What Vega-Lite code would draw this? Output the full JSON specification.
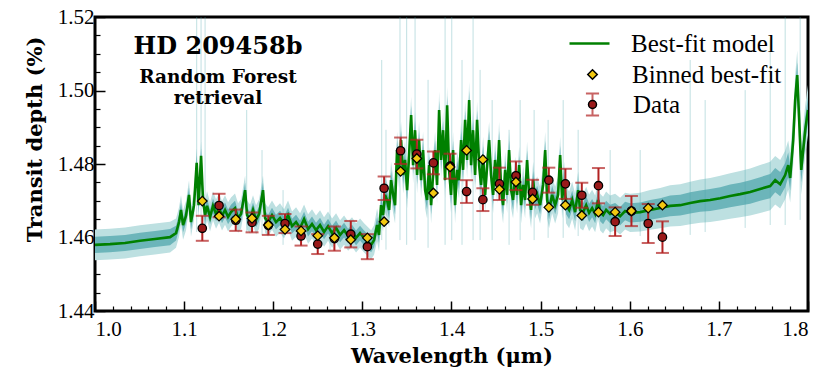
{
  "$schema": "https://vega.github.io/schema/vega-lite/v6.json",
  "width": 713,
  "height": 294,
  "autosize": "none",
  "padding": {"left": 95, "top": 17, "right": 22, "bottom": 72},
  "background": "white",
  "config": {
    "view": {"stroke": "black", "strokeWidth": 3},
    "font": "Liberation Serif",
    "axis": {"domain": false, "grid": false, "tickColor": "black", "labelColor": "black", "titleColor": "black"},
    "legend": {"padding": 0, "labelFont": "Liberation Serif", "labelFontSize": 25, "labelColor": "black", "title": null}
  },
  "title": {
    "text": "HD 209458b",
    "subtitle": ["Random Forest", "retrieval"],
    "anchor": "start",
    "frame": "group",
    "orient": "top",
    "align": "center",
    "dx": 123,
    "dy": 105,
    "font": "DejaVu Serif",
    "fontWeight": "bold",
    "fontSize": 24,
    "color": "black",
    "subtitleFont": "DejaVu Serif",
    "subtitleFontWeight": "bold",
    "subtitleFontSize": 18.5,
    "subtitleLineHeight": 21,
    "subtitleColor": "black",
    "subtitlePadding": 9
  },
  "datasets": {
    "model": [
      {"w":1.0000,"m":1.4580,"s1":0.0022,"s2":0.0042},{"w":1.0168,"m":1.4582,"s1":0.0022,"s2":0.0042},{"w":1.0337,"m":1.4585,"s1":0.0022,"s2":0.0042},{"w":1.0505,"m":1.4591,"s1":0.0022,"s2":0.0042},{"w":1.0673,"m":1.4596,"s1":0.0022,"s2":0.0042},{"w":1.0842,"m":1.4601,"s1":0.0022,"s2":0.0042},{"w":1.0909,"m":1.4612,"s1":0.0020,"s2":0.0040},{"w":1.0943,"m":1.4642,"s1":0.0020,"s2":0.0040},{"w":1.0965,"m":1.4675,"s1":0.0020,"s2":0.0040},{"w":1.0988,"m":1.4634,"s1":0.0020,"s2":0.0040},{"w":1.1021,"m":1.4659,"s1":0.0020,"s2":0.0040},{"w":1.1055,"m":1.4716,"s1":0.0020,"s2":0.0040},{"w":1.1077,"m":1.4642,"s1":0.0020,"s2":0.0040},{"w":1.1111,"m":1.4688,"s1":0.0020,"s2":0.0040},{"w":1.1141,"m":1.4803,"s1":0.0020,"s2":0.0040},{"w":1.1162,"m":1.4688,"s1":0.0020,"s2":0.0040},{"w":1.1190,"m":1.4822,"s1":0.0020,"s2":0.0040},{"w":1.1212,"m":1.4702,"s1":0.0020,"s2":0.0040},{"w":1.1235,"m":1.4661,"s1":0.0020,"s2":0.0040},{"w":1.1257,"m":1.4686,"s1":0.0020,"s2":0.0040},{"w":1.1291,"m":1.4656,"s1":0.0020,"s2":0.0040},{"w":1.1324,"m":1.4686,"s1":0.0020,"s2":0.0040},{"w":1.1358,"m":1.4664,"s1":0.0020,"s2":0.0040},{"w":1.1392,"m":1.4680,"s1":0.0020,"s2":0.0040},{"w":1.1425,"m":1.4659,"s1":0.0020,"s2":0.0040},{"w":1.1459,"m":1.4675,"s1":0.0020,"s2":0.0040},{"w":1.1493,"m":1.4656,"s1":0.0020,"s2":0.0040},{"w":1.1526,"m":1.4669,"s1":0.0020,"s2":0.0040},{"w":1.1571,"m":1.4680,"s1":0.0020,"s2":0.0040},{"w":1.1605,"m":1.4653,"s1":0.0020,"s2":0.0040},{"w":1.1639,"m":1.4664,"s1":0.0020,"s2":0.0040},{"w":1.1684,"m":1.4729,"s1":0.0020,"s2":0.0040},{"w":1.1706,"m":1.4661,"s1":0.0020,"s2":0.0040},{"w":1.1740,"m":1.4650,"s1":0.0020,"s2":0.0040},{"w":1.1773,"m":1.4675,"s1":0.0020,"s2":0.0040},{"w":1.1807,"m":1.4648,"s1":0.0020,"s2":0.0040},{"w":1.1841,"m":1.4664,"s1":0.0020,"s2":0.0040},{"w":1.1885,"m":1.4729,"s1":0.0020,"s2":0.0040},{"w":1.1908,"m":1.4653,"s1":0.0020,"s2":0.0040},{"w":1.1942,"m":1.4642,"s1":0.0020,"s2":0.0040},{"w":1.1986,"m":1.4661,"s1":0.0020,"s2":0.0040},{"w":1.2031,"m":1.4642,"s1":0.0020,"s2":0.0040},{"w":1.2076,"m":1.4653,"s1":0.0020,"s2":0.0040},{"w":1.2121,"m":1.4637,"s1":0.0020,"s2":0.0040},{"w":1.2166,"m":1.4661,"s1":0.0020,"s2":0.0040},{"w":1.2211,"m":1.4631,"s1":0.0020,"s2":0.0040},{"w":1.2256,"m":1.4642,"s1":0.0020,"s2":0.0040},{"w":1.2301,"m":1.4626,"s1":0.0020,"s2":0.0040},{"w":1.2346,"m":1.4650,"s1":0.0020,"s2":0.0040},{"w":1.2391,"m":1.4623,"s1":0.0020,"s2":0.0040},{"w":1.2435,"m":1.4637,"s1":0.0020,"s2":0.0040},{"w":1.2480,"m":1.4620,"s1":0.0020,"s2":0.0040},{"w":1.2525,"m":1.4634,"s1":0.0020,"s2":0.0040},{"w":1.2570,"m":1.4615,"s1":0.0020,"s2":0.0040},{"w":1.2615,"m":1.4631,"s1":0.0020,"s2":0.0040},{"w":1.2660,"m":1.4612,"s1":0.0020,"s2":0.0040},{"w":1.2705,"m":1.4626,"s1":0.0020,"s2":0.0040},{"w":1.2750,"m":1.4607,"s1":0.0020,"s2":0.0040},{"w":1.2795,"m":1.4620,"s1":0.0020,"s2":0.0040},{"w":1.2840,"m":1.4604,"s1":0.0020,"s2":0.0040},{"w":1.2884,"m":1.4615,"s1":0.0020,"s2":0.0040},{"w":1.2929,"m":1.4599,"s1":0.0020,"s2":0.0040},{"w":1.2974,"m":1.4612,"s1":0.0020,"s2":0.0040},{"w":1.3019,"m":1.4599,"s1":0.0020,"s2":0.0040},{"w":1.3064,"m":1.4588,"s1":0.0020,"s2":0.0040},{"w":1.3098,"m":1.4580,"s1":0.0020,"s2":0.0040},{"w":1.3131,"m":1.4593,"s1":0.0020,"s2":0.0040},{"w":1.3165,"m":1.4634,"s1":0.0022,"s2":0.0045},{"w":1.3187,"m":1.4607,"s1":0.0022,"s2":0.0045},{"w":1.3210,"m":1.4688,"s1":0.0022,"s2":0.0045},{"w":1.3232,"m":1.4661,"s1":0.0022,"s2":0.0045},{"w":1.3255,"m":1.4716,"s1":0.0024,"s2":0.0048},{"w":1.3277,"m":1.4702,"s1":0.0024,"s2":0.0048},{"w":1.3300,"m":1.4675,"s1":0.0024,"s2":0.0048},{"w":1.3322,"m":1.4756,"s1":0.0025,"s2":0.0050},{"w":1.3345,"m":1.4716,"s1":0.0025,"s2":0.0050},{"w":1.3367,"m":1.4688,"s1":0.0025,"s2":0.0050},{"w":1.3389,"m":1.4838,"s1":0.0025,"s2":0.0050},{"w":1.3412,"m":1.4784,"s1":0.0025,"s2":0.0050},{"w":1.3434,"m":1.4865,"s1":0.0025,"s2":0.0050},{"w":1.3457,"m":1.4770,"s1":0.0025,"s2":0.0050},{"w":1.3479,"m":1.4811,"s1":0.0025,"s2":0.0050},{"w":1.3502,"m":1.4729,"s1":0.0025,"s2":0.0050},{"w":1.3524,"m":1.4824,"s1":0.0025,"s2":0.0050},{"w":1.3547,"m":1.4933,"s1":0.0025,"s2":0.0050},{"w":1.3569,"m":1.4797,"s1":0.0025,"s2":0.0050},{"w":1.3591,"m":1.4892,"s1":0.0025,"s2":0.0050},{"w":1.3614,"m":1.4770,"s1":0.0025,"s2":0.0050},{"w":1.3636,"m":1.4865,"s1":0.0025,"s2":0.0050},{"w":1.3659,"m":1.4756,"s1":0.0025,"s2":0.0050},{"w":1.3681,"m":1.4838,"s1":0.0025,"s2":0.0050},{"w":1.3704,"m":1.4729,"s1":0.0025,"s2":0.0050},{"w":1.3726,"m":1.4702,"s1":0.0025,"s2":0.0050},{"w":1.3749,"m":1.4797,"s1":0.0025,"s2":0.0050},{"w":1.3771,"m":1.4688,"s1":0.0025,"s2":0.0050},{"w":1.3793,"m":1.4770,"s1":0.0025,"s2":0.0050},{"w":1.3816,"m":1.4838,"s1":0.0025,"s2":0.0050},{"w":1.3838,"m":1.4743,"s1":0.0025,"s2":0.0050},{"w":1.3861,"m":1.4947,"s1":0.0025,"s2":0.0050},{"w":1.3883,"m":1.4811,"s1":0.0025,"s2":0.0050},{"w":1.3906,"m":1.4892,"s1":0.0025,"s2":0.0050},{"w":1.3928,"m":1.4756,"s1":0.0025,"s2":0.0050},{"w":1.3951,"m":1.4960,"s1":0.0025,"s2":0.0050},{"w":1.3973,"m":1.4784,"s1":0.0025,"s2":0.0050},{"w":1.3995,"m":1.4716,"s1":0.0025,"s2":0.0050},{"w":1.4018,"m":1.4838,"s1":0.0025,"s2":0.0050},{"w":1.4040,"m":1.4688,"s1":0.0025,"s2":0.0050},{"w":1.4063,"m":1.4784,"s1":0.0025,"s2":0.0050},{"w":1.4085,"m":1.4756,"s1":0.0025,"s2":0.0050},{"w":1.4108,"m":1.4865,"s1":0.0025,"s2":0.0050},{"w":1.4130,"m":1.4784,"s1":0.0025,"s2":0.0050},{"w":1.4153,"m":1.4920,"s1":0.0025,"s2":0.0050},{"w":1.4175,"m":1.4811,"s1":0.0025,"s2":0.0050},{"w":1.4198,"m":1.4974,"s1":0.0025,"s2":0.0050},{"w":1.4220,"m":1.4797,"s1":0.0025,"s2":0.0050},{"w":1.4242,"m":1.4892,"s1":0.0025,"s2":0.0050},{"w":1.4265,"m":1.4770,"s1":0.0025,"s2":0.0050},{"w":1.4287,"m":1.4920,"s1":0.0025,"s2":0.0050},{"w":1.4310,"m":1.4797,"s1":0.0025,"s2":0.0050},{"w":1.4332,"m":1.4743,"s1":0.0025,"s2":0.0050},{"w":1.4355,"m":1.4824,"s1":0.0025,"s2":0.0050},{"w":1.4377,"m":1.4716,"s1":0.0025,"s2":0.0050},{"w":1.4400,"m":1.4797,"s1":0.0025,"s2":0.0050},{"w":1.4422,"m":1.4865,"s1":0.0025,"s2":0.0050},{"w":1.4444,"m":1.4770,"s1":0.0025,"s2":0.0050},{"w":1.4467,"m":1.4716,"s1":0.0025,"s2":0.0050},{"w":1.4489,"m":1.4811,"s1":0.0025,"s2":0.0050},{"w":1.4512,"m":1.4743,"s1":0.0025,"s2":0.0050},{"w":1.4534,"m":1.4865,"s1":0.0025,"s2":0.0050},{"w":1.4557,"m":1.4729,"s1":0.0025,"s2":0.0050},{"w":1.4579,"m":1.4688,"s1":0.0025,"s2":0.0050},{"w":1.4602,"m":1.4784,"s1":0.0025,"s2":0.0050},{"w":1.4624,"m":1.4716,"s1":0.0025,"s2":0.0050},{"w":1.4646,"m":1.4838,"s1":0.0025,"s2":0.0050},{"w":1.4669,"m":1.4729,"s1":0.0025,"s2":0.0050},{"w":1.4691,"m":1.4702,"s1":0.0025,"s2":0.0050},{"w":1.4714,"m":1.4770,"s1":0.0025,"s2":0.0050},{"w":1.4736,"m":1.4716,"s1":0.0025,"s2":0.0050},{"w":1.4759,"m":1.4797,"s1":0.0025,"s2":0.0050},{"w":1.4781,"m":1.4688,"s1":0.0025,"s2":0.0050},{"w":1.4804,"m":1.4743,"s1":0.0025,"s2":0.0050},{"w":1.4826,"m":1.4702,"s1":0.0025,"s2":0.0050},{"w":1.4848,"m":1.4811,"s1":0.0025,"s2":0.0050},{"w":1.4871,"m":1.4716,"s1":0.0025,"s2":0.0050},{"w":1.4893,"m":1.4675,"s1":0.0025,"s2":0.0050},{"w":1.4916,"m":1.4756,"s1":0.0025,"s2":0.0050},{"w":1.4938,"m":1.4702,"s1":0.0025,"s2":0.0050},{"w":1.4961,"m":1.4716,"s1":0.0025,"s2":0.0050},{"w":1.4994,"m":1.4688,"s1":0.0025,"s2":0.0050},{"w":1.5028,"m":1.4743,"s1":0.0025,"s2":0.0050},{"w":1.5051,"m":1.4838,"s1":0.0025,"s2":0.0050},{"w":1.5073,"m":1.4702,"s1":0.0025,"s2":0.0050},{"w":1.5095,"m":1.4675,"s1":0.0025,"s2":0.0050},{"w":1.5129,"m":1.4716,"s1":0.0025,"s2":0.0050},{"w":1.5163,"m":1.4688,"s1":0.0025,"s2":0.0050},{"w":1.5196,"m":1.4716,"s1":0.0025,"s2":0.0050},{"w":1.5219,"m":1.4824,"s1":0.0025,"s2":0.0050},{"w":1.5241,"m":1.4702,"s1":0.0025,"s2":0.0050},{"w":1.5264,"m":1.4756,"s1":0.0025,"s2":0.0050},{"w":1.5286,"m":1.4688,"s1":0.0025,"s2":0.0050},{"w":1.5320,"m":1.4675,"s1":0.0025,"s2":0.0050},{"w":1.5354,"m":1.4702,"s1":0.0025,"s2":0.0050},{"w":1.5387,"m":1.4669,"s1":0.0025,"s2":0.0050},{"w":1.5421,"m":1.4729,"s1":0.0025,"s2":0.0050},{"w":1.5443,"m":1.4675,"s1":0.0025,"s2":0.0050},{"w":1.5477,"m":1.4669,"s1":0.0025,"s2":0.0050},{"w":1.5511,"m":1.4688,"s1":0.0025,"s2":0.0050},{"w":1.5544,"m":1.4667,"s1":0.0025,"s2":0.0050},{"w":1.5578,"m":1.4680,"s1":0.0025,"s2":0.0050},{"w":1.5612,"m":1.4664,"s1":0.0025,"s2":0.0050},{"w":1.5645,"m":1.4702,"s1":0.0025,"s2":0.0050},{"w":1.5668,"m":1.4669,"s1":0.0025,"s2":0.0050},{"w":1.5701,"m":1.4661,"s1":0.0025,"s2":0.0050},{"w":1.5735,"m":1.4675,"s1":0.0025,"s2":0.0050},{"w":1.5780,"m":1.4664,"s1":0.0025,"s2":0.0050},{"w":1.5836,"m":1.4669,"s1":0.0025,"s2":0.0050},{"w":1.5892,"m":1.4658,"s1":0.0025,"s2":0.0050},{"w":1.5948,"m":1.4672,"s1":0.0025,"s2":0.0050},{"w":1.6004,"m":1.4667,"s1":0.0026,"s2":0.0052},{"w":1.6117,"m":1.4669,"s1":0.0026,"s2":0.0053},{"w":1.6229,"m":1.4675,"s1":0.0027,"s2":0.0054},{"w":1.6341,"m":1.4680,"s1":0.0027,"s2":0.0055},{"w":1.6453,"m":1.4686,"s1":0.0028,"s2":0.0056},{"w":1.6566,"m":1.4688,"s1":0.0028,"s2":0.0057},{"w":1.6678,"m":1.4694,"s1":0.0029,"s2":0.0058},{"w":1.6790,"m":1.4699,"s1":0.0029,"s2":0.0059},{"w":1.6902,"m":1.4702,"s1":0.0030,"s2":0.0060},{"w":1.7015,"m":1.4707,"s1":0.0030,"s2":0.0061},{"w":1.7127,"m":1.4713,"s1":0.0031,"s2":0.0062},{"w":1.7239,"m":1.4718,"s1":0.0031,"s2":0.0063},{"w":1.7351,"m":1.4724,"s1":0.0032,"s2":0.0064},{"w":1.7463,"m":1.4732,"s1":0.0032,"s2":0.0065},{"w":1.7576,"m":1.4740,"s1":0.0033,"s2":0.0066},{"w":1.7632,"m":1.4756,"s1":0.0033,"s2":0.0066},{"w":1.7688,"m":1.4745,"s1":0.0033,"s2":0.0066},{"w":1.7744,"m":1.4770,"s1":0.0033,"s2":0.0066},{"w":1.7778,"m":1.4797,"s1":0.0034,"s2":0.0067},{"w":1.7800,"m":1.4762,"s1":0.0034,"s2":0.0067},{"w":1.7834,"m":1.4865,"s1":0.0034,"s2":0.0067},{"w":1.7856,"m":1.4974,"s1":0.0034,"s2":0.0067},{"w":1.7879,"m":1.5042,"s1":0.0034,"s2":0.0067},{"w":1.7901,"m":1.4920,"s1":0.0034,"s2":0.0067},{"w":1.7924,"m":1.4784,"s1":0.0034,"s2":0.0067},{"w":1.7946,"m":1.4838,"s1":0.0035,"s2":0.0068},{"w":1.7969,"m":1.4892,"s1":0.0035,"s2":0.0068},{"w":1.8000,"m":1.4947,"s1":0.0035,"s2":0.0068}
    ],
    "spikes": [
      {"w":1.1141,"lo":1.4615,"hi":1.5200},{"w":1.1190,"lo":1.4615,"hi":1.5200},{"w":1.1235,"lo":1.4620,"hi":1.5200},{"w":1.1702,"lo":1.4615,"hi":1.4947},{"w":1.1874,"lo":1.4607,"hi":1.4838},{"w":1.2110,"lo":1.4580,"hi":1.4729},{"w":1.2637,"lo":1.4567,"hi":1.4811},{"w":1.3217,"lo":1.4593,"hi":1.5083},{"w":1.3265,"lo":1.4567,"hi":1.4893},{"w":1.3422,"lo":1.4593,"hi":1.5200},{"w":1.3497,"lo":1.4580,"hi":1.5200},{"w":1.3591,"lo":1.4593,"hi":1.5200},{"w":1.3737,"lo":1.4572,"hi":1.5029},{"w":1.3928,"lo":1.4580,"hi":1.5200},{"w":1.4003,"lo":1.4593,"hi":1.5200},{"w":1.4118,"lo":1.4580,"hi":1.5083},{"w":1.4242,"lo":1.4593,"hi":1.5200},{"w":1.4321,"lo":1.4593,"hi":1.5056},{"w":1.4456,"lo":1.4593,"hi":1.4974},{"w":1.4646,"lo":1.4580,"hi":1.4893},{"w":1.4770,"lo":1.4593,"hi":1.4974},{"w":1.4927,"lo":1.4593,"hi":1.4947},{"w":1.5084,"lo":1.4599,"hi":1.4920},{"w":1.5253,"lo":1.4599,"hi":1.4974},{"w":1.5421,"lo":1.4604,"hi":1.4893},{"w":1.5780,"lo":1.4604,"hi":1.4838},{"w":1.6117,"lo":1.4604,"hi":1.4838},{"w":1.6678,"lo":1.4607,"hi":1.5083},{"w":1.6846,"lo":1.4615,"hi":1.4974},{"w":1.7295,"lo":1.4626,"hi":1.5001},{"w":1.7576,"lo":1.4634,"hi":1.5138},{"w":1.7744,"lo":1.4634,"hi":1.5200},{"w":1.7912,"lo":1.4648,"hi":1.5200}
    ],
    "obs": [
      {"w":1.1204,"d":1.4625,"e":0.0034,"b":1.4699},
      {"w":1.1392,"d":1.4687,"e":0.0032,"b":1.4658},
      {"w":1.1579,"d":1.4647,"e":0.0029,"b":1.4650},
      {"w":1.1762,"d":1.4641,"e":0.0027,"b":1.4652},
      {"w":1.1945,"d":1.4633,"e":0.0026,"b":1.4634},
      {"w":1.2132,"d":1.4638,"e":0.0026,"b":1.4622},
      {"w":1.2312,"d":1.4604,"e":0.0026,"b":1.4618},
      {"w":1.2499,"d":1.4582,"e":0.0027,"b":1.4605},
      {"w":1.2686,"d":1.4597,"e":0.0033,"b":1.4599},
      {"w":1.2870,"d":1.4609,"e":0.0036,"b":1.4594},
      {"w":1.3056,"d":1.4575,"e":0.0034,"b":1.4599},
      {"w":1.3244,"d":1.4734,"e":0.0032,"b":1.4643},
      {"w":1.3429,"d":1.4836,"e":0.0036,"b":1.4780},
      {"w":1.3611,"d":1.4827,"e":0.0039,"b":1.4815},
      {"w":1.3797,"d":1.4803,"e":0.0031,"b":1.4721},
      {"w":1.3984,"d":1.4794,"e":0.0034,"b":1.4792},
      {"w":1.4169,"d":1.4725,"e":0.0031,"b":1.4837},
      {"w":1.4352,"d":1.4703,"e":0.0031,"b":1.4812},
      {"w":1.4538,"d":1.4746,"e":0.0044,"b":1.4731},
      {"w":1.4723,"d":1.4768,"e":0.0039,"b":1.4751},
      {"w":1.4910,"d":1.4723,"e":0.0034,"b":1.4705},
      {"w":1.5092,"d":1.4756,"e":0.0034,"b":1.4682},
      {"w":1.5278,"d":1.4746,"e":0.0041,"b":1.4688},
      {"w":1.5462,"d":1.4715,"e":0.0034,"b":1.4660},
      {"w":1.5649,"d":1.4741,"e":0.0048,"b":1.4669},
      {"w":1.5836,"d":1.4643,"e":0.0039,"b":1.4669},
      {"w":1.6019,"d":1.4672,"e":0.0041,"b":1.4672},
      {"w":1.6207,"d":1.4638,"e":0.0053,"b":1.4680},
      {"w":1.6367,"d":1.4601,"e":0.0043,"b":1.4688}
    ]
  },
  "resolve": {
    "axis": {"x": "independent", "y": "independent"},
    "scale": {"shape": "independent", "color": "independent"},
    "legend": {"shape": "independent", "color": "independent"}
  },
  "layer": [
    {
      "data": {"name": "model"},
      "mark": {"type": "errorband", "color": "#bde0e1", "opacity": 1, "clip": true},
      "encoding": {
        "x": {"field": "w", "type": "quantitative", "scale": {"domain": [1.0, 1.8], "nice": false, "zero": false},
              "axis": {"orient": "bottom", "values": [1.02,1.04,1.06,1.08,1.12,1.14,1.16,1.18,1.22,1.24,1.26,1.28,1.32,1.34,1.36,1.38,1.42,1.44,1.46,1.48,1.52,1.54,1.56,1.58,1.62,1.64,1.66,1.68,1.72,1.74,1.76,1.78], "labels": false, "tickSize": -5, "tickWidth": 1.2, "title": null}},
        "y": {"field": "m", "type": "quantitative", "scale": {"domain": [1.44, 1.52], "nice": false, "zero": false},
              "axis": {"orient": "left", "values": [1.445,1.45,1.455,1.465,1.47,1.475,1.485,1.49,1.495,1.505,1.51,1.515], "labels": false, "tickSize": -5, "tickWidth": 1.2, "title": null}},
        "yError": {"field": "s2"}
      }
    },
    {
      "data": {"name": "model"},
      "mark": {"type": "errorband", "color": "#6cb5ba", "opacity": 1, "clip": true},
      "encoding": {
        "x": {"field": "w", "type": "quantitative", "axis": null},
        "y": {"field": "m", "type": "quantitative", "axis": null},
        "yError": {"field": "s1"}
      }
    },
    {
      "data": {"name": "spikes"},
      "mark": {"type": "rule", "color": "#4ea7ad", "strokeWidth": 1, "opacity": 0.35, "clip": true},
      "encoding": {
        "x": {"field": "w", "type": "quantitative", "axis": null},
        "y": {"field": "lo", "type": "quantitative", "axis": null},
        "y2": {"field": "hi"}
      }
    },
    {
      "data": {"name": "model"},
      "mark": {"type": "line", "strokeWidth": 2.6, "clip": true},
      "encoding": {
        "x": {"field": "w", "type": "quantitative",
              "axis": {"orient": "bottom", "values": [1.0,1.1,1.2,1.3,1.4,1.5,1.6,1.7,1.8], "format": ".1f", "tickSize": -10, "tickWidth": 1.5, "labelPadding": 17, "labelFontSize": 21, "labelFont": "Liberation Serif",
                       "title": "Wavelength (μm)", "titleFont": "DejaVu Serif", "titleFontSize": 21, "titleFontWeight": "bold", "titlePadding": 6}},
        "y": {"field": "m", "type": "quantitative",
              "axis": {"orient": "left", "values": [1.44,1.46,1.48,1.5,1.52], "format": ".2f", "tickSize": -10, "tickWidth": 1.5, "labelPadding": 11, "labelFontSize": 21, "labelFont": "Liberation Serif",
                       "title": "Transit depth (%)", "titleFont": "DejaVu Serif", "titleFontSize": 21, "titleFontWeight": "bold", "titlePadding": 12, "titleY": 122}},
        "color": {
          "datum": "Best-fit model",
          "type": "nominal",
          "scale": {"range": ["#008000"]},
          "legend": {"orient": "none", "legendX": 473, "legendY": 5, "symbolType": "stroke", "symbolSize": 1600, "symbolStrokeWidth": 2.6, "symbolStrokeColor": "#008000", "labelOffset": 20}
        }
      }
    },
    {
      "data": {"name": "obs"},
      "mark": {"type": "errorbar", "thickness": 2, "ticks": {"size": 13, "thickness": 2}},
      "encoding": {
        "x": {"field": "w", "type": "quantitative", "axis": null},
        "y": {"field": "d", "type": "quantitative", "axis": null},
        "yError": {"field": "e"},
        "color": {
          "datum": "Data",
          "type": "nominal",
          "scale": {"range": ["#b22222"]},
          "legend": {"orient": "none", "legendX": 485, "legendY": 75, "symbolType": "M0,-1L0,1M-0.6,-1L0.6,-1M-0.6,1L0.6,1", "symbolSize": 480, "symbolStrokeWidth": 2, "labelExpr": "''", "labelOffset": 28}
        }
      }
    },
    {
      "data": {"name": "obs"},
      "mark": {"type": "point", "filled": true, "size": 70, "color": "#9a1a1a", "stroke": "black", "strokeWidth": 1.3, "opacity": 1},
      "encoding": {
        "x": {"field": "w", "type": "quantitative", "axis": null},
        "y": {"field": "d", "type": "quantitative", "axis": null},
        "shape": {
          "datum": "Data",
          "type": "nominal",
          "scale": {"range": ["circle"]},
          "legend": {"orient": "none", "legendX": 485, "legendY": 75, "symbolSize": 64, "symbolOpacity": 1, "labelOffset": 28}
        }
      }
    },
    {
      "data": {"name": "obs"},
      "mark": {"type": "point", "filled": true, "size": 90, "color": "#f2c811", "stroke": "black", "strokeWidth": 1.3, "opacity": 1},
      "encoding": {
        "x": {"field": "w", "type": "quantitative", "axis": null},
        "y": {"field": "b", "type": "quantitative", "axis": null},
        "shape": {
          "datum": "Binned best-fit",
          "type": "nominal",
          "scale": {"range": ["diamond"]},
          "legend": {"orient": "none", "legendX": 485, "legendY": 45, "symbolSize": 90, "symbolOpacity": 1, "labelOffset": 27}
        }
      }
    }
  ]
}
